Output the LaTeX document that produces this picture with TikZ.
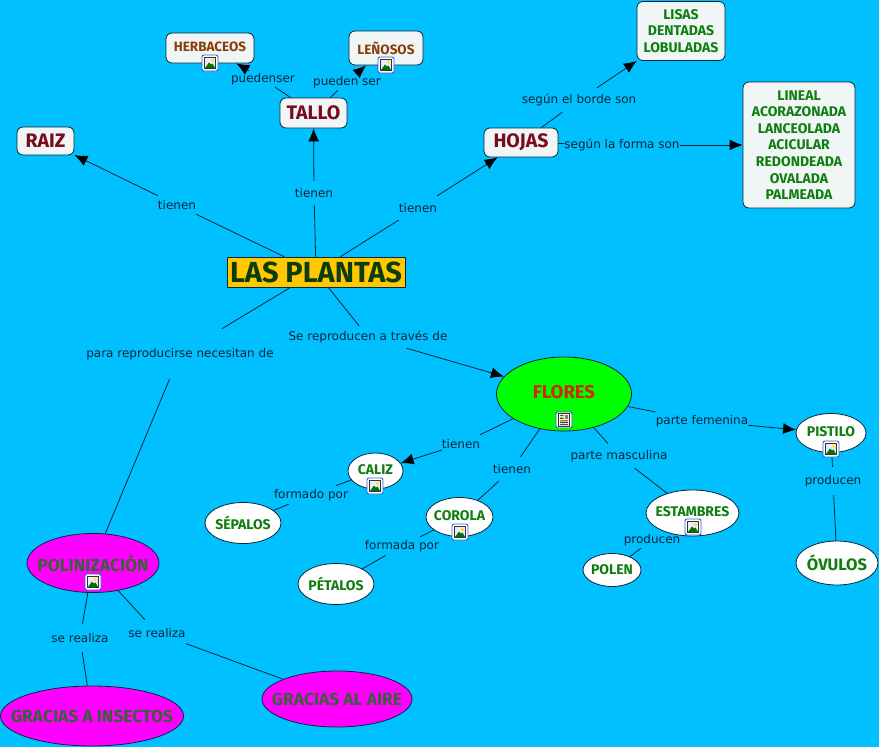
\documentclass[tikz,border=0pt]{standalone}
\usepackage{fontspec}
\setmainfont{DejaVu Sans}
\newfontfamily\cmapfont{Fira Sans}[UprightFont=* Bold]
\usetikzlibrary{arrows.meta,shapes.geometric}
\newcommand{\ovt}[1]{\makebox[0pt][c]{#1}}
\definecolor{bgc}{HTML}{00C0FF}
\definecolor{linec}{HTML}{06263A}
\definecolor{boxc}{HTML}{F0F6F6}
\definecolor{yelc}{HTML}{FFC800}
\definecolor{grnc}{HTML}{00FF00}
\definecolor{magc}{HTML}{FF00FF}
\definecolor{redt}{HTML}{7A0A1E}
\definecolor{brnt}{HTML}{8C3C0A}
\definecolor{grnt}{HTML}{0F7D0F}
\definecolor{dkgt}{HTML}{0C3C0C}
\definecolor{flot}{HTML}{D22800}
\definecolor{magt}{HTML}{3A5F3A}
\definecolor{iconb}{HTML}{2F62C8}
\tikzset{
  conc/.style={draw=linec,line width=.8pt,align=center,inner sep=0pt,font=\cmapfont},
  rbox/.style={conc,rectangle,rounded corners=6pt,fill=boxc},
  oval/.style={conc,ellipse,fill=white},
  mainbox/.style={rbox,text=redt,font=\cmapfont\fontsize{19.5}{22}\selectfont},
  subbox/.style={rbox,text=brnt,font=\cmapfont\fontsize{13.5}{16}\selectfont},
  listbox/.style={rbox,text=grnt,font=\cmapfont\fontsize{14}{16.6}\selectfont},
  wsmall/.style={oval,text=grnt,font=\cmapfont\fontsize{14}{16}\selectfont},
  wbig/.style={oval,text=grnt,font=\cmapfont\fontsize{16.5}{19}\selectfont},
  mag/.style={oval,fill=magc,text=magt,font=\cmapfont\fontsize{17.4}{20}\selectfont},
  lab/.style={inner xsep=0pt,inner ysep=0pt,minimum height=20pt,yshift=-1pt,text=linec,font=\fontsize{12}{14}\selectfont},
  link/.style={draw=linec,line width=.8pt},
  arr/.style={link,-{Latex[length=13pt,width=11pt,color=black]}},
  imgicon/.pic={
    \draw[iconb,fill=white,rounded corners=2pt,line width=.9pt] (-8,-8) rectangle (8,8);
    \fill[black!80] (-6,-6) rectangle (6,6);
    \fill[blue!8] (-5,-5) rectangle (5,5);
    \fill[green!45!black] (-5,5) -- (-1,-.5) -- (1,1.5) -- (2.5,.5) -- (5,5) -- cycle;
    \fill[yellow!90!orange] (2.5,-2.7) circle (1.7);
  },
  docicon/.pic={
    \draw[iconb,fill=white,rounded corners=2pt,line width=.9pt] (-8,-8) rectangle (8,8);
    \draw[black!80,fill=yellow!25,line width=.7pt] (-5.5,-6.5) rectangle (5.5,6.5);
    \fill[black!70] (-4,-5) rectangle (-.5,-3.8) (-4,-2.4) rectangle (-.5,-1.2);
    \fill[black!70] (-4,.3) rectangle (4,1.3) (-4,2.2) rectangle (4,3.2) (-4,4.1) rectangle (4,5.1);
    \fill[gray] (.5,-5) rectangle (4.2,-1.2);
  }
}
\begin{document}
\begin{tikzpicture}[x=1pt,y=-1pt]
\useasboundingbox[fill=bgc] (0,0) rectangle (879,747);
% concepts
\node[conc,rectangle,fill=yelc,text=dkgt,minimum width=178pt,minimum height=30pt,font=\cmapfont\fontsize{29}{32}\selectfont] (plantas) at (316,272) {LAS PLANTAS};
\node[mainbox,minimum width=57pt,minimum height=28pt] (raiz) at (45.5,141) {RAIZ};
\node[mainbox,minimum width=67pt,minimum height=30pt] (tallo) at (313.5,113) {TALLO};
\node[mainbox,minimum width=74pt,minimum height=29pt] (hojas) at (521,142.5) {HOJAS};
\node[subbox,minimum width=88pt,minimum height=30pt] (herb) at (210,48) {\raisebox{2pt}{HERBACEOS}};
\node[subbox,minimum width=74pt,minimum height=34pt] (len) at (386,48) {LEÑOSOS};
\node[listbox,minimum width=88pt,minimum height=59pt] (lisas) at (681,31) {LISAS\\DENTADAS\\LOBULADAS};
\node[listbox,minimum width=112pt,minimum height=126pt] (lineal) at (799,145) {LINEAL\\ACORAZONADA\\LANCEOLADA\\ACICULAR\\REDONDEADA\\OVALADA\\PALMEADA};
\node[conc,ellipse,fill=grnc,text=flot,minimum width=135pt,minimum height=74pt,font=\cmapfont\fontsize{18.5}{21}\selectfont] (flores) at (564,394) {\raisebox{4pt}{\ovt{FLORES}}};
\node[wsmall,minimum width=55pt,minimum height=36pt] (caliz) at (375.5,471) {\raisebox{3pt}{\ovt{CALIZ}}};
\node[wsmall,minimum width=76pt,minimum height=41pt] (sepalos) at (243,523) {\ovt{SÉPALOS}};
\node[wsmall,minimum width=67pt,minimum height=39pt] (corola) at (459.5,517) {\raisebox{3pt}{\ovt{COROLA}}};
\node[wsmall,minimum width=76pt,minimum height=41pt] (petalos) at (336,584) {\ovt{PÉTALOS}};
\node[wsmall,minimum width=93pt,minimum height=46pt] (estam) at (692.5,513) {\raisebox{3pt}{\ovt{ESTAMBRES}}};
\node[wsmall,minimum width=58pt,minimum height=33pt] (polen) at (612,570) {\ovt{POLEN}};
\node[wsmall,minimum width=70pt,minimum height=39pt] (pistilo) at (831,433) {\raisebox{2pt}{\ovt{PISTILO}}};
\node[wbig,minimum width=82pt,minimum height=44pt] (ovulos) at (837,563) {\ovt{ÓVULOS}};
\node[mag,minimum width=132pt,minimum height=59pt] (polin) at (93,563) {\ovt{POLINIZACIÓN}};
\node[mag,minimum width=183pt,minimum height=60pt] (insectos) at (92,716) {\ovt{GRACIAS A INSECTOS}};
\node[mag,minimum width=150pt,minimum height=56pt] (aire) at (337,699) {\ovt{GRACIAS AL AIRE}};
% linking phrases
\node[lab,minimum height=24pt] (l1) at (177,204) {tienen};
\node[lab,minimum height=24pt] (l2) at (314,192) {tienen};
\node[lab,minimum height=24pt] (l3) at (418,207) {tienen};
\node[lab,minimum height=16pt] (l4) at (263,78) {puedenser};
\node[lab,minimum height=16pt] (l5) at (347,81) {pueden ser};
\node[lab,minimum height=24pt] (l6) at (579,99) {según el borde son};
\node[lab] (l7) at (622,144) {según la forma son};
\node[lab,minimum height=50pt] (l8) at (180,353) {para reproducirse necesitan de};
\node[lab,minimum height=22pt] (l9) at (368,336) {Se reproducen a través de};
\node[lab] (l10) at (461,443) {tienen};
\node[lab,minimum height=24pt] (l11) at (512,468) {tienen};
\node[lab,minimum height=18pt] (l12) at (702,420) {parte femenina};
\node[lab,minimum height=24pt] (l13) at (619,455) {parte masculina};
\node[lab,minimum height=28pt] (l14) at (833,480) {producen};
\node[lab,minimum height=16pt] (l15) at (652,539) {producen};
\node[lab,minimum height=18pt] (l16) at (311,494) {formado por};
\node[lab,minimum height=18pt] (l17) at (402,545) {formada por};
\node[lab,minimum height=28pt] (l18) at (80,637) {se realiza};
\node[lab,minimum height=26pt] (l19) at (157,632) {se realiza};
% connectors
\draw[link] (plantas) -- (l1); \draw[arr] (l1) -- (raiz);
\draw[link] (plantas) -- (l2); \draw[arr] (l2) -- (tallo);
\draw[link] (plantas) -- (l3); \draw[arr] (l3) -- (hojas);
\draw[link] (tallo) -- (l4); \draw[arr] (l4) -- (herb);
\draw[link] (tallo) -- (l5); \draw[arr] (l5) -- (len);
\draw[link] (hojas) -- (l6); \draw[arr] (l6) -- (lisas);
\draw[link] (hojas) -- (l7); \draw[arr] (l7) -- (lineal);
\draw[link] (plantas) -- (l8); \draw[link] (l8) -- (polin);
\draw[link] (plantas) -- (l9); \draw[arr] (l9) -- (flores);
\draw[link] (flores) -- (l10); \draw[arr] (l10) -- (caliz);
\draw[link] (flores) -- (l11); \draw[link] (l11) -- (corola);
\draw[link] (flores) -- (l12); \draw[arr] (l12) -- (pistilo);
\draw[link] (flores) -- (l13); \draw[link] (l13) -- (estam);
\draw[link] (pistilo) -- (l14); \draw[link] (l14) -- (ovulos);
\draw[link] (estam) -- (l15); \draw[link] (l15) -- (polen);
\draw[link] (caliz) -- (l16); \draw[link] (l16) -- (sepalos);
\draw[link] (corola) -- (l17); \draw[link] (l17) -- (petalos);
\draw[link] (polin) -- (l18); \draw[link] (l18) -- (insectos);
\draw[link] (polin) -- (l19); \draw[link] (l19) -- (aire);
% icons
\pic at (210,63) {imgicon};
\pic at (386,65) {imgicon};
\pic at (564,420) {docicon};
\pic at (375,486) {imgicon};
\pic at (460,532) {imgicon};
\pic at (693,527) {imgicon};
\pic at (831,449) {imgicon};
\pic at (93,582) {imgicon};
\end{tikzpicture}
\end{document}
